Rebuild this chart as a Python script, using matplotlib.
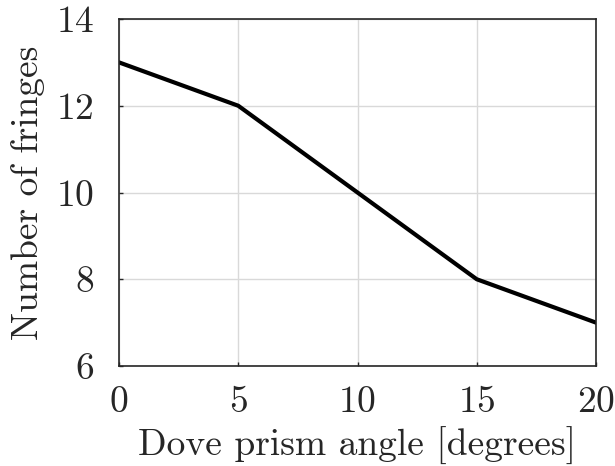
import matplotlib
matplotlib.use("Agg")
import matplotlib.pyplot as plt

angle = [0, 5, 10, 15, 20]
fringes = [13, 12, 10, 8, 7]
x_ticks = [0, 5, 10, 15, 20]
y_ticks = [6, 8, 10, 12, 14]

plt.rcParams['font.family'] = 'serif'
plt.rcParams['font.serif'] = ['cmr10']
plt.rcParams['mathtext.fontset'] = 'cm'
plt.rcParams['axes.formatter.use_mathtext'] = True

fig = plt.figure(figsize=(6.15, 4.66), dpi=100)
ax = fig.add_axes([119 / 615, 1 - 366 / 466, (596 - 119) / 615, (366 - 19) / 466])

ax.plot(angle, fringes, color='black', linewidth=3)
ax.set_xlim(0, 20)
ax.set_ylim(6, 14)
ax.set_xticks(x_ticks)
ax.set_yticks(y_ticks)
ax.grid(True, color='#d9d9d9', linewidth=1.0)
ax.set_axisbelow(True)
for s in ax.spines.values():
    s.set_color('#262626')
    s.set_linewidth(1.2)
ax.tick_params(direction='in', length=3, width=1, colors='#262626', labelsize=27)
ax.tick_params(axis='x', pad=14)
ax.tick_params(axis='y', pad=18)
ax.set_xlabel('Dove prism angle [degrees]', fontsize=27, color='#262626', labelpad=6)
ax.set_ylabel('Number of fringes', fontsize=27, color='#262626', labelpad=8)

fig.savefig('out.png', dpi=100)
